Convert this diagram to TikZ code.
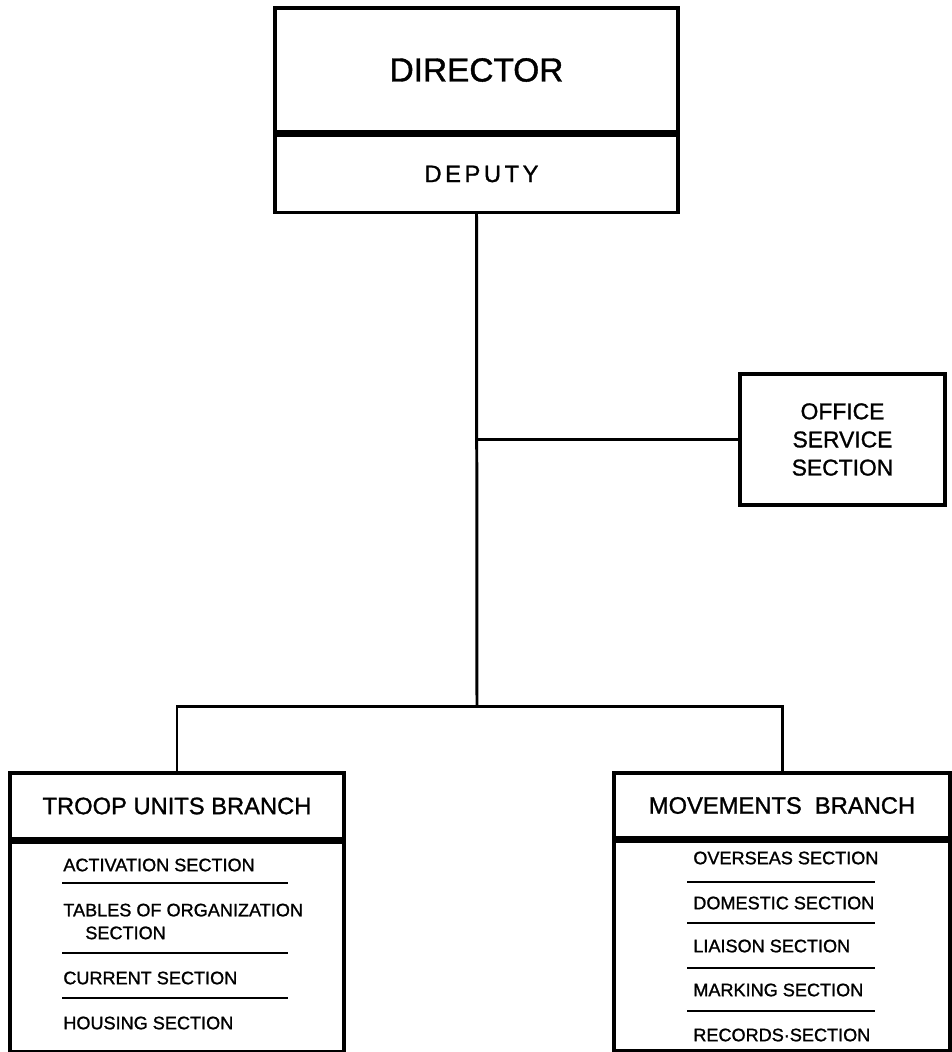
\documentclass[tikz,border=0pt]{standalone}
\usepackage{fontspec}
\setmainfont{Liberation Sans}
\newfontfamily\chartfont[FakeBold=1.2]{Liberation Sans}
\usetikzlibrary{positioning}
\tikzset{
  box/.style = {draw, line width=2pt, inner sep=0pt, align=center},
  link/.style = {line width=1.7pt},
  rule/.style = {line width=1.2pt},
  head/.style = {font=\chartfont\fontsize{13.5}{16}\selectfont},
  item/.style = {anchor=west, inner sep=0pt, align=left,
    font=\chartfont\fontsize{10.3}{13}\selectfont}
}

\begin{document}
\begin{tikzpicture}[x=0.02cm, y=-0.02cm]
  \useasboundingbox (0,0) rectangle (952,1052);

  % top of the chart
  \node[box, minimum width=8.06cm, minimum height=2.48cm,
        font=\chartfont\fontsize{19}{22}\selectfont] (director) at (476.5,70) {DIRECTOR};
  \node[box, minimum width=8.06cm, minimum height=1.54cm, below=0pt of director,
        font=\chartfont\fontsize{13.5}{16}\selectfont\addfontfeature{LetterSpace=15}] (deputy) {\hspace{0.2cm}DEPUTY};
  \node[box, minimum width=4.1cm, minimum height=2.62cm,
        font=\chartfont\fontsize{13}{16}\selectfont] (office) at (842.5,439.5) {OFFICE\\SERVICE\\SECTION};

  % branches
  \node[box, head, minimum width=6.68cm, minimum height=1.32cm] (troop) at (177,806) {TROOP UNITS BRANCH};
  \node[box, minimum width=6.68cm, minimum height=4.18cm, below=0pt of troop] (troop_sections) {};
  \node[box, head, minimum width=6.72cm, minimum height=1.3cm] (movements) at (782,805.5) {MOVEMENTS\ \ BRANCH};
  \node[box, minimum width=6.72cm, minimum height=4.18cm, below=0pt of movements] (movement_sections) {};

  % sections of the troop units branch
  \node[item] (activation) at (63,865) {ACTIVATION SECTION};
  \node[item] (tables) at (63,921.5) {TABLES OF ORGANIZATION\\\hspace{0.44cm}SECTION};
  \node[item] (current) at (63,978) {CURRENT SECTION};
  \node[item] (housing) at (63,1023) {HOUSING SECTION};
  \draw[rule] (62,883) -- (288,883);
  \draw[rule] (62,953) -- (288,953);
  \draw[rule] (62,998) -- (288,998);

  % sections of the movements branch
  \node[item] (overseas) at (693,858) {OVERSEAS SECTION};
  \node[item] (domestic) at (693,903) {DOMESTIC SECTION};
  \node[item] (liaison) at (693,946) {LIAISON SECTION};
  \node[item] (marking) at (693,990) {MARKING SECTION};
  \node[item] (records) at (693,1035) {RECORDS{\textperiodcentered}SECTION};
  \draw[rule] (687,882) -- (875,882);
  \draw[rule] (687,923) -- (875,923);
  \draw[rule] (687,968) -- (875,968);
  \draw[rule] (687,1011) -- (875,1011);

  % connectors
  \coordinate (bar) at (477,706);
  \draw[link] (deputy.south) -- (bar);
  \draw[link] (deputy.south |- office.west) -- (office.west);
  \draw[link] (troop.north) |- (bar) -| (movements.north);
\end{tikzpicture}
\end{document}
